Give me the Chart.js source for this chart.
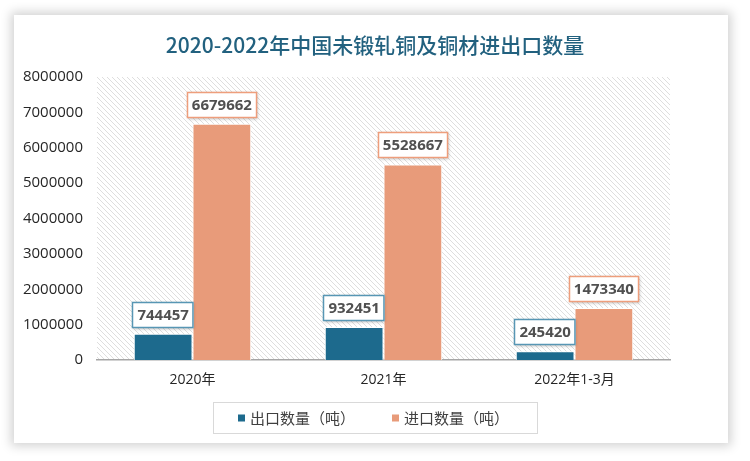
<!DOCTYPE html>
<html><head><meta charset="utf-8">
<script src="https://cdn.jsdelivr.net/npm/chart.js@4"></script>
<style>
html,body{margin:0;padding:0;background:#fff;width:750px;height:461px;overflow:hidden;}
#card{position:absolute;left:14px;top:15px;width:714px;height:428px;background:#fff;box-shadow:0 0 10px 3px rgba(0,0,0,0.18);}
#c{position:absolute;left:0;top:0;}
</style></head><body>
<div id="card"></div>
<canvas id="c" width="750" height="461"></canvas>
<script>
const categories = ['2020年', '2021年', '2022年1-3月'];
const exportValues = [744457, 932451, 245420];
const importValues = [6679662, 5528667, 1473340];
const seriesNames = ['出口数量（吨）', '进口数量（吨）'];
const yTicks = [0, 1000000, 2000000, 3000000, 4000000, 5000000, 6000000, 7000000, 8000000];
const titleText = '2020-2022年中国未锻轧铜及铜材进出口数量';

const exportColor = '#1d6a8d';
const importColor = '#e89b7a';
const exportBorder = '#5796b4';
const importBorder = '#ee9e7c';

function makeHatch(){
  const t = document.createElement('canvas');
  t.width = 5; t.height = 5;
  const g = t.getContext('2d');
  g.fillStyle = '#fff'; g.fillRect(0,0,5,5);
  g.strokeStyle = '#dedede'; g.lineWidth = 1;
  g.beginPath();
  g.moveTo(0,0); g.lineTo(5,5);
  g.moveTo(-1,4); g.lineTo(1,6);
  g.moveTo(4,-1); g.lineTo(6,1);
  g.stroke();
  return t;
}

const bgPlugin = {
  id: 'bg',
  beforeDraw(chart){
    const {ctx, chartArea:a} = chart;
    ctx.save();
    ctx.fillStyle = ctx.createPattern(makeHatch(), 'repeat');
    ctx.fillRect(a.left, a.top, a.right - a.left, a.bottom - a.top);
    ctx.restore();
  },
  afterDraw(chart){
    const ctx = chart.ctx;
    ctx.save();
    ctx.fillStyle = '#22617f';
    ctx.font = '500 21px "Noto Sans CJK SC", sans-serif';
    ctx.textAlign = 'center'; ctx.textBaseline = 'middle';
    ctx.fillText(titleText, 375, 45);
    const lx = 213, ly = 402, lw = 324, lh = 31;
    ctx.strokeStyle = '#d9d9d9'; ctx.lineWidth = 1;
    ctx.strokeRect(lx + 0.5, ly + 0.5, lw, lh);
    ctx.font = '15px "Noto Sans CJK SC", sans-serif';
    ctx.textAlign = 'left';
    const items = [[exportColor, seriesNames[0], 238], [importColor, seriesNames[1], 392]];
    items.forEach(([col, name, x]) => {
      ctx.fillStyle = col;
      ctx.fillRect(x, ly + lh/2 - 3, 7, 7);
      ctx.fillStyle = '#404040';
      ctx.fillText(name, x + 12, ly + lh/2 + 1);
    });
    ctx.restore();
  }
};

const labelPlugin = {
  id: 'boxLabels',
  afterDatasetsDraw(chart){
    const ctx = chart.ctx;
    ctx.save();
    ctx.font = 'bold 15px "Open Sans", sans-serif';
    ctx.textAlign = 'center'; ctx.textBaseline = 'middle';
    chart.data.datasets.forEach((ds, di) => {
      const meta = chart.getDatasetMeta(di);
      meta.data.forEach((bar, i) => {
        const txt = String(ds.data[i]);
        const w = ctx.measureText(txt).width + 10;
        const h = 26;
        const x = Math.round(bar.x - w/2);
        const y = Math.round(bar.y - 6 - h);
        ctx.shadowColor = 'rgba(0,0,0,0.25)';
        ctx.shadowBlur = 3; ctx.shadowOffsetX = 1; ctx.shadowOffsetY = 1;
        ctx.fillStyle = '#fff';
        ctx.fillRect(x, y, w, h);
        ctx.shadowColor = 'transparent';
        ctx.strokeStyle = di === 0 ? exportBorder : importBorder;
        ctx.lineWidth = 1.5;
        ctx.strokeRect(x + 0.5, y + 0.5, w - 1, h - 1);
        ctx.fillStyle = '#505050';
        ctx.fillText(txt, bar.x, y + h/2 + 1);
      });
    });
    ctx.restore();
  }
};

new Chart(document.getElementById('c'), {
  type: 'bar',
  data: {
    labels: categories,
    datasets: [
      {label: seriesNames[0], data: exportValues, backgroundColor: exportColor, borderColor: '#ffffff', borderWidth: {left:1, right:1, top:1, bottom:0}, categoryPercentage: 0.615, barPercentage: 1},
      {label: seriesNames[1], data: importValues, backgroundColor: importColor, borderColor: '#ffffff', borderWidth: {left:1, right:1, top:1, bottom:0}, categoryPercentage: 0.615, barPercentage: 1}
    ]
  },
  options: {
    responsive: false,
    animation: false,
    layout: {padding: {top: 77, left: 0, right: 80, bottom: 0}},
    plugins: {legend: {display: false}, title: {display: false}, tooltip: {enabled: false}},
    scales: {
      x: {
        grid: {display: false, drawTicks: false},
        border: {display: true, color: '#a6a6a6', width: 1.5},
        ticks: {color: '#262626', font: {size: 14, family: '"Open Sans", "Noto Sans CJK SC", sans-serif'}, padding: 12},
        afterFit(s){ s.height = 101; }
      },
      y: {
        min: 0, max: 8000000,
        afterBuildTicks(s){ s.ticks = yTicks.map(v => ({value: v})); },
        grid: {display: false, drawTicks: false},
        border: {display: false},
        ticks: {color: '#262626', font: {size: 15, family: '"Open Sans", sans-serif'}, padding: 14, callback: v => String(v)},
        afterFit(s){ s.width = 97; }
      }
    }
  },
  plugins: [bgPlugin, labelPlugin]
});
</script>
</body></html>
